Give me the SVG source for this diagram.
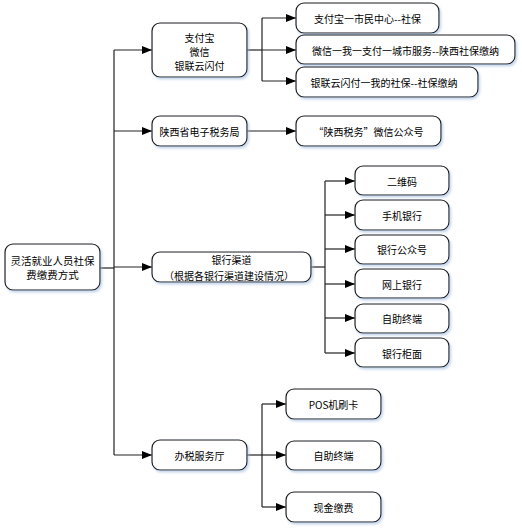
<svg xmlns="http://www.w3.org/2000/svg" width="522" height="530" viewBox="0 0 522 530">
<style>
.box{fill:#fff;stroke:#1a1a1a;stroke-width:1.2;filter:url(#sh)}
.t{font-family:"Noto Sans CJK SC","Liberation Sans",sans-serif;font-size:10px;fill:#000;text-anchor:middle;dominant-baseline:central}
.ln{fill:none;stroke:#222;stroke-width:1.2}
</style>
<defs>
<filter id="sh" x="-10%" y="-20%" width="130%" height="150%">
<feDropShadow dx="1.5" dy="2" stdDeviation="1.2" flood-color="#9dbbe0" flood-opacity="0.6"/>
</filter>
<marker id="ah" markerWidth="10" markerHeight="8" refX="10" refY="4" orient="auto" markerUnits="userSpaceOnUse">
<path d="M0,0 L10,4 L0,8 Z" fill="#000"/>
</marker>
</defs>
<g id="connectors">
<path class="ln" d="M100,268 H114"/>
<path class="ln" d="M114,50 V455"/>
<path class="ln" d="M114,50 H152" marker-end="url(#ah)"/>
<path class="ln" d="M114,131 H152" marker-end="url(#ah)"/>
<path class="ln" d="M114,267 H152" marker-end="url(#ah)"/>
<path class="ln" d="M114,455 H152" marker-end="url(#ah)"/>
<path class="ln" d="M247,50 H262"/>
<path class="ln" d="M262,18 V81"/>
<path class="ln" d="M262,18 H296" marker-end="url(#ah)"/>
<path class="ln" d="M262,50 H296" marker-end="url(#ah)"/>
<path class="ln" d="M262,81 H296" marker-end="url(#ah)"/>
<path class="ln" d="M247,131 H296" marker-end="url(#ah)"/>
<path class="ln" d="M311,267 H325"/>
<path class="ln" d="M325,181 V353"/>
<path class="ln" d="M325,181 H355" marker-end="url(#ah)"/>
<path class="ln" d="M325,215 H355" marker-end="url(#ah)"/>
<path class="ln" d="M325,249 H355" marker-end="url(#ah)"/>
<path class="ln" d="M325,284 H355" marker-end="url(#ah)"/>
<path class="ln" d="M325,318 H355" marker-end="url(#ah)"/>
<path class="ln" d="M325,353 H355" marker-end="url(#ah)"/>
<path class="ln" d="M247,455 H262"/>
<path class="ln" d="M262,404 V507"/>
<path class="ln" d="M262,404 H286" marker-end="url(#ah)"/>
<path class="ln" d="M262,455 H286" marker-end="url(#ah)"/>
<path class="ln" d="M262,507 H286" marker-end="url(#ah)"/>
</g>
<g id="root"><rect class="box" x="5" y="244" width="95" height="46" rx="8"/>
<text class="t" x="52.5" y="260" style="font-size:10.5px">灵活就业人员社保</text>
<text class="t" x="52.5" y="274" style="font-size:10.5px">费缴费方式</text></g>
<g id="n-alipay"><rect class="box" x="152" y="23" width="95" height="54" rx="8"/>
<text class="t" x="199.5" y="37">支付宝</text>
<text class="t" x="199.5" y="51">微信</text>
<text class="t" x="199.5" y="65">银联云闪付</text></g>
<g id="n-tax"><rect class="box" x="152" y="116" width="95" height="30" rx="8"/>
<text class="t" x="199.5" y="131">陕西省电子税务局</text></g>
<g id="n-bank"><rect class="box" x="152" y="252" width="159" height="30" rx="8"/>
<text class="t" x="231.5" y="259">银行渠道</text>
<text class="t" x="229" y="275">（根据各银行渠道建设情况）</text></g>
<g id="n-hall"><rect class="box" x="152" y="440" width="95" height="30" rx="8"/>
<text class="t" x="199.5" y="455">办税服务厅</text></g>
<g id="a1"><rect class="box" x="296" y="3" width="143" height="30" rx="8"/>
<text class="t" x="367.5" y="18">支付宝一市民中心--社保</text></g>
<g id="a2"><rect class="box" x="296" y="35" width="219" height="29" rx="8"/>
<text class="t" x="405.5" y="50">微信一我一支付一城市服务--陕西社保缴纳</text></g>
<g id="a3"><rect class="box" x="296" y="67" width="182" height="30" rx="8"/>
<text class="t" x="384" y="82">银联云闪付一我的社保--社保缴纳</text></g>
<g id="t1"><rect class="box" x="296" y="116" width="145" height="30" rx="8"/>
<text class="t" x="368.5" y="131">“陕西税务”微信公众号</text></g>
<g id="b1"><rect class="box" x="355" y="166" width="94" height="29" rx="8"/>
<text class="t" x="402" y="181">二维码</text></g>
<g id="b2"><rect class="box" x="355" y="200" width="94" height="30" rx="8"/>
<text class="t" x="402" y="215">手机银行</text></g>
<g id="b3"><rect class="box" x="355" y="235" width="94" height="29" rx="8"/>
<text class="t" x="402" y="249">银行公众号</text></g>
<g id="b4"><rect class="box" x="355" y="269" width="94" height="29" rx="8"/>
<text class="t" x="402" y="284">网上银行</text></g>
<g id="b5"><rect class="box" x="355" y="304" width="94" height="29" rx="8"/>
<text class="t" x="402" y="318">自助终端</text></g>
<g id="b6"><rect class="box" x="355" y="338" width="94" height="29" rx="8"/>
<text class="t" x="402" y="353">银行柜面</text></g>
<g id="h1"><rect class="box" x="286" y="389" width="95" height="30" rx="8"/>
<text class="t" x="333.5" y="404">POS机刷卡</text></g>
<g id="h2"><rect class="box" x="286" y="441" width="95" height="29" rx="8"/>
<text class="t" x="333.5" y="455">自助终端</text></g>
<g id="h3"><rect class="box" x="286" y="492" width="95" height="30" rx="8"/>
<text class="t" x="333.5" y="507">现金缴费</text></g>
</svg>
